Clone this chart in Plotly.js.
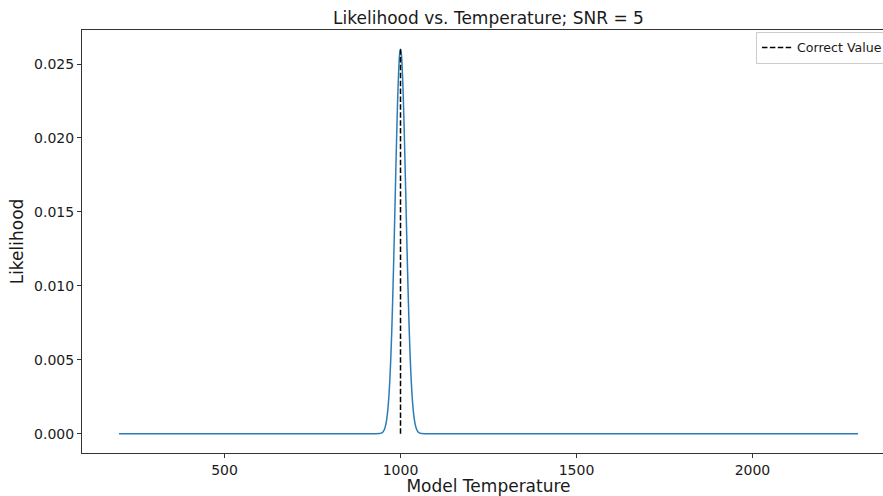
<!DOCTYPE html>
<html>
<head>
<meta charset="utf-8">
<script src="https://cdn.plot.ly/plotly-3.0.1.min.js"></script>
<style>
  html, body { margin: 0; padding: 0; overflow: hidden; background: #fff; }
  #chart { width: 910px; height: 496px; }
</style>
</head>
<body>
<div id="chart"></div>
<script>
// Model temperature samples (x) and likelihood values (y)
const temperature = [200, 930, 940, 945, 950, 955, 960, 962.5, 965, 967.5, 970, 972.5, 975, 977.5, 980, 982.5, 985, 987.5, 990, 992.5, 995, 997.5,
  1000,
  1002.5, 1005, 1007.5, 1010, 1012.5, 1015, 1017.5, 1020, 1022.5, 1025, 1027.5, 1030, 1032.5, 1035, 1037.5, 1040, 1045, 1050, 1055, 1060, 1070, 2300];
const likelihood = [0, 0, 0.0000119, 0.0000407, 0.000125, 0.000344, 0.000853, 0.00129, 0.0019, 0.002724, 0.003803, 0.00517, 0.006843, 0.008818, 0.011065, 0.013518, 0.016079, 0.018622, 0.021, 0.023057, 0.024648, 0.025655,
  0.026,
  0.025655, 0.024648, 0.023057, 0.021, 0.018622, 0.016079, 0.013518, 0.011065, 0.008818, 0.006843, 0.00517, 0.003803, 0.002724, 0.0019, 0.00129, 0.000853, 0.000344, 0.000125, 0.0000407, 0.0000119, 0, 0];

// Correct value marker
const correctX = [1000, 1000];
const correctY = [0, 0.026];
const correctName = "Correct Value";

const titleText = "Likelihood vs. Temperature; SNR = 5";
const xTitle = "Model Temperature";
const yTitle = "Likelihood";
const xTicks = [500, 1000, 1500, 2000];
const yTicks = [0, 0.005, 0.010, 0.015, 0.020, 0.025];

const FONT = "DejaVu Sans, sans-serif";
const TXT = "#1a1a1a";

const traces = [
  {
    x: temperature, y: likelihood, type: "scatter", mode: "lines",
    line: { color: "#2c7db6", width: 1.5, shape: "spline", smoothing: 0.6 },
    showlegend: false, hoverinfo: "skip"
  },
  {
    x: correctX, y: correctY, type: "scatter", mode: "lines",
    name: correctName,
    line: { color: "#000000", width: 1.5, dash: "5.5px,2.4px" },
    showlegend: true, hoverinfo: "skip"
  }
];

const layout = {
  width: 910, height: 496,
  margin: { l: 82, r: 15, t: 30, b: 43, pad: 0 },
  paper_bgcolor: "#ffffff", plot_bgcolor: "#ffffff",
  font: { family: FONT, color: TXT, size: 14 },
  title: {
    text: titleText, font: { family: FONT, size: 17, color: TXT },
    x: 0.5, xref: "paper", xanchor: "center",
    y: 1 - 18 / 496, yref: "container", yanchor: "middle"
  },
  xaxis: {
    range: [95, 2405],
    tickmode: "array", tickvals: xTicks, ticktext: xTicks.map(String),
    ticks: "outside", ticklen: 4, tickwidth: 1, tickcolor: "#333",
    showline: true, linecolor: "#333", linewidth: 1, mirror: true,
    showgrid: false, zeroline: false,
    tickfont: { family: FONT, size: 14, color: TXT },
    title: { text: xTitle, font: { family: FONT, size: 17, color: TXT }, standoff: 6 },
    automargin: false
  },
  yaxis: {
    range: [-0.0013, 0.0273],
    tickmode: "array", tickvals: yTicks, ticktext: yTicks.map(v => v.toFixed(3)),
    ticks: "outside", ticklen: 4, tickwidth: 1, tickcolor: "#333",
    showline: true, linecolor: "#333", linewidth: 1, mirror: true,
    showgrid: false, zeroline: false,
    tickfont: { family: FONT, size: 14, color: TXT },
    title: { text: yTitle, font: { family: FONT, size: 17, color: TXT }, standoff: 6 },
    automargin: false
  },
  legend: {
    x: 0.829, xanchor: "left", y: 0.996, yanchor: "top",
    bgcolor: "rgba(255,255,255,0.8)", bordercolor: "#cccccc", borderwidth: 1,
    font: { family: FONT, size: 12.6, color: TXT }
  },
  showlegend: true
};

Plotly.newPlot("chart", traces, layout, { displayModeBar: false, staticPlot: true });
</script>
</body>
</html>
